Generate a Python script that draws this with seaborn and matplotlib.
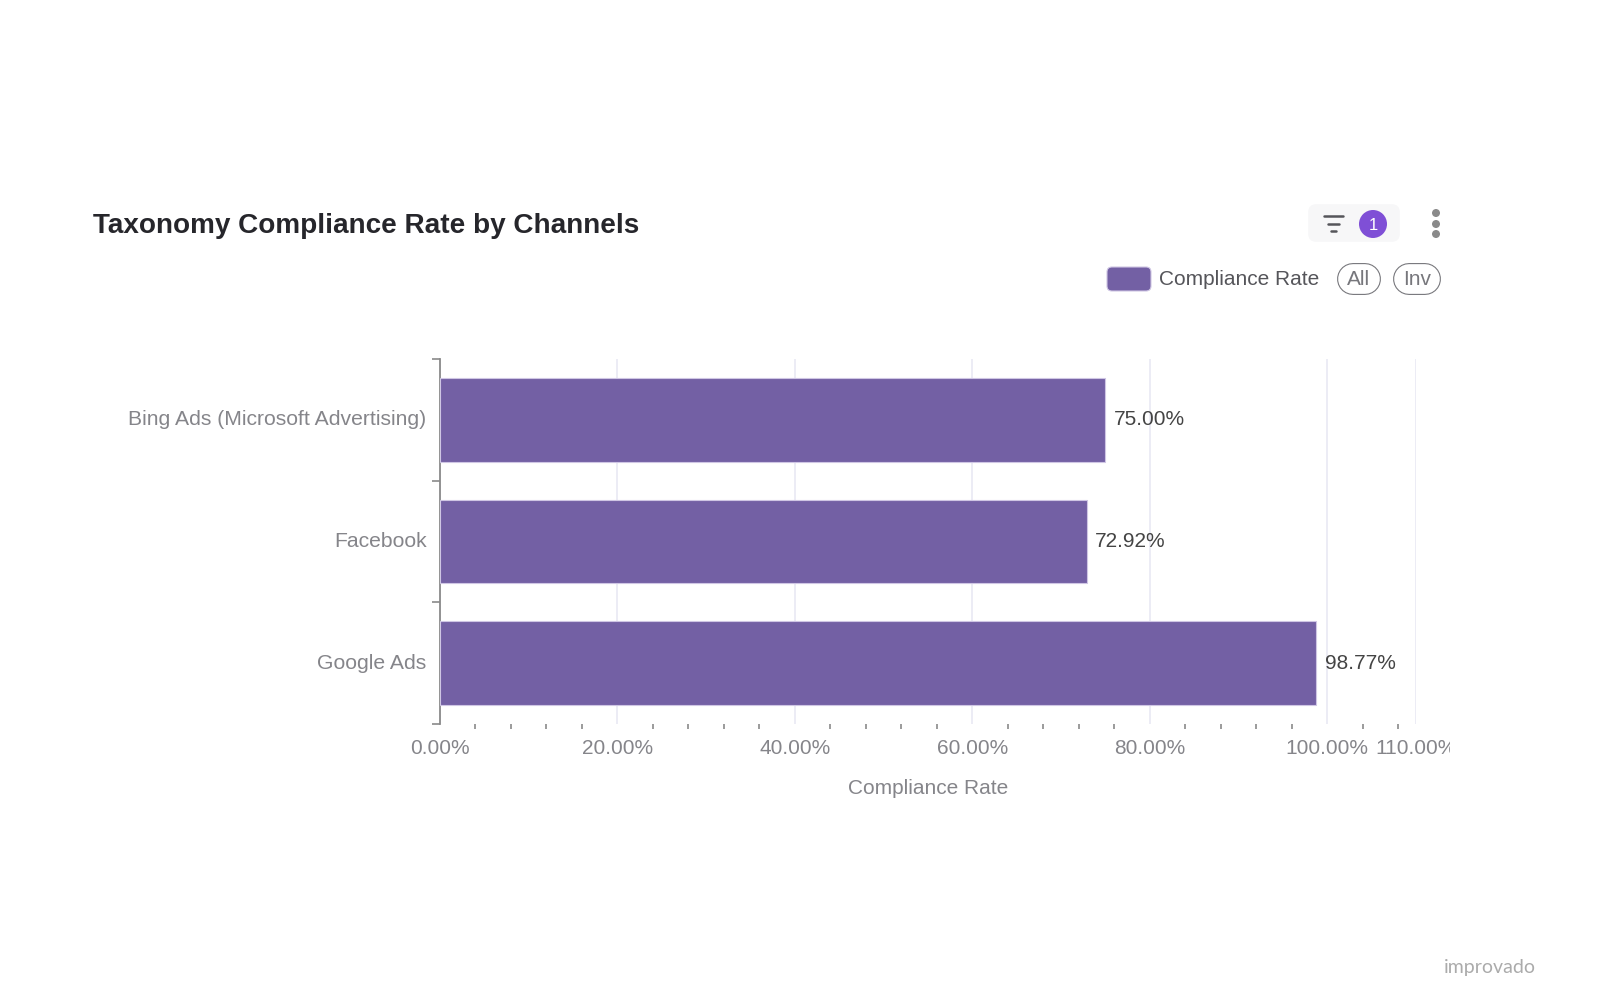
import pandas as pd
import seaborn as sns
import matplotlib.pyplot as plt
from matplotlib.patches import Circle, FancyBboxPatch
from matplotlib.transforms import Bbox, ScaledTranslation

channels = ["Bing Ads (Microsoft Advertising)", "Facebook", "Google Ads"]
compliance = [75.00, 72.92, 98.77]
x_ticks = [0, 20, 40, 60, 80, 100, 110]
x_tick_labels = ["0.00%", "20.00%", "40.00%", "60.00%", "80.00%", "100.00%", "110.00%"]

PURPLE = "#7360a4"
GREY = "#85858a"

sns.set_theme(style="white")
plt.rcParams["font.family"] = ["Liberation Sans", "DejaVu Sans"]

df = pd.DataFrame({"channel": channels, "rate": compliance})

fig = plt.figure(figsize=(16, 10), dpi=100, facecolor="white")
ax = fig.add_axes([440 / 1600, 1 - 724 / 1000, 976 / 1600, 365 / 1000])

sns.barplot(data=df, y="channel", x="rate", color=PURPLE, saturation=1, width=0.69,
            edgecolor="#cfc6e4", linewidth=0.8, zorder=3, ax=ax)
ax.bar_label(ax.containers[0], fmt="%.2f%%", padding=6, fontsize=15, color="#444444", zorder=4)

ax.set_xlim(0, 110)
ax.set_ylim(2.5, -0.5)
sns.despine(ax=ax, top=True, right=True, bottom=True)
ax.spines["left"].set_color("#8a8a8a")
ax.spines["left"].set_linewidth(1.3)

# x axis: gridlines on the labelled values, small ticks every 4%
ax.set_xticks(x_ticks, labels=x_tick_labels)
ax.set_xticks([v for v in range(4, 110, 4) if v % 20], minor=True)
ax.grid(axis="x", which="major", color="#e9e9f3", linewidth=1.2, zorder=0)
ax.tick_params(axis="x", which="major", length=0, pad=10.7, labelsize=15, labelcolor=GREY)
ax.tick_params(axis="x", which="minor", bottom=True, length=3.5, width=1.2, color="#8a8a8a")

# y axis: ticks on the band edges, labels in the band centres
ax.set_yticks([-0.5, 0.5, 1.5, 2.5], labels=[])
ax.set_yticks(range(len(channels)), labels=channels, minor=True)
ax.tick_params(axis="y", which="major", left=True, length=6, width=1.2, color="#8a8a8a")
ax.tick_params(axis="y", which="minor", left=False, length=0, pad=9.7, labelsize=15.2, labelcolor=GREY)
nudge = ScaledTranslation(0, 2 / 100, fig.dpi_scale_trans)
for label in ax.get_yticklabels(minor=True):
    label.set_transform(label.get_transform() + nudge)

ax.set_ylabel("")
ax.set_xlabel("Compliance Rate", fontsize=15, color=GREY, labelpad=15)

# the last tick label is cut off by the chart container
clip = Bbox([[0, 0], [1450, 1000]])
for label in ax.get_xticklabels():
    label.set_clip_box(clip)
    label.set_clip_on(True)

# header and legend are drawn on an overlay in pixel units
ui = fig.add_axes([0, 0, 1, 1], facecolor="none")
ui.set_xlim(0, 1600)
ui.set_ylim(1000, 0)
ui.axis("off")

ui.text(93, 226, "Taxonomy Compliance Rate by Channels", fontsize=20.08, fontweight="bold",
        color="#26262b", va="center", ha="left")

ui.add_patch(FancyBboxPatch((1311, 207), 86, 32, boxstyle="round,pad=0,rounding_size=5",
                            fc="#f7f7f8", ec="#f7f7f8", lw=4))
for y, x0, x1 in [(216, 1324, 1343), (224, 1328, 1339), (231, 1331, 1336)]:
    ui.plot([x0, x1], [y, y], color="#55555a", lw=1.8, solid_capstyle="round")
ui.add_patch(Circle((1373, 224), 14, fc="#7f4fd6", ec="none"))
ui.text(1373, 225, "1", fontsize=12, color="white", ha="center", va="center")
for y in [213, 224, 234]:
    ui.add_patch(Circle((1436, y), 4, fc="#8a8a8a", ec="none"))

ui.add_patch(FancyBboxPatch((1107, 267), 44, 24, boxstyle="round,pad=0,rounding_size=5",
                            fc=PURPLE, ec="#cfc6e4", lw=0.8))
ui.text(1159, 279.5, "Compliance Rate", fontsize=15, color="#55555a", va="center", ha="left")

# pills: a thick round-capped grey line with a white one on top
for x0, x1, name in [(1337, 1381, "All"), (1393, 1441, "Inv")]:
    ui.plot([x0 + 16, x1 - 16], [279, 279], color="#77777c", lw=23, solid_capstyle="round")
    ui.plot([x0 + 16, x1 - 16], [279, 279], color="white", lw=21.4, solid_capstyle="round")
    ui.text((x0 + x1) / 2, 279.5, name, fontsize=15, color="#77777c", va="center", ha="center")

ui.text(1490, 968, "improvado", fontsize=14, family="Lato", color="#ababab",
        ha="center", va="center")

fig.savefig("out.png", dpi=100)
